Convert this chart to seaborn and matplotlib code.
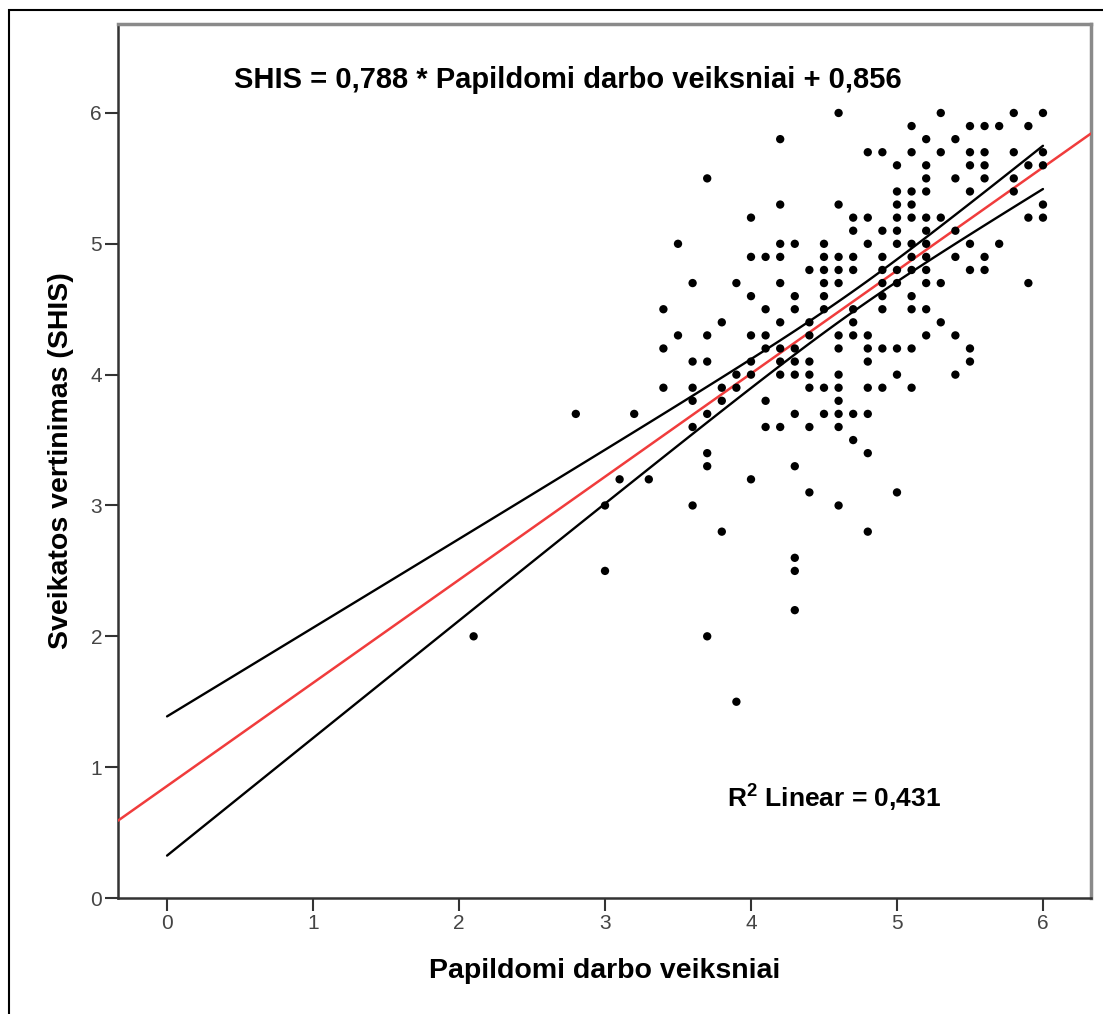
import numpy as np
import pandas as pd
import seaborn as sns
import matplotlib.pyplot as plt
from matplotlib.patches import Rectangle

# scatter points, one line per x column (overlapping cases drawn once)
work_factors = (
    [2.1] + [2.8] + [3.0] * 2 + [3.1] + [3.2] + [3.3] + [3.4] * 3 + [3.5] * 2
    + [3.6] * 6 + [3.7] * 7 + [3.8] * 4 + [3.9] * 4 + [4.0] * 7 + [4.1] * 6
    + [4.2] * 10 + [4.3] * 11 + [4.4] * 8 + [4.5] * 8 + [4.6] * 13 + [4.7] * 9
    + [4.8] * 10 + [4.9] * 9 + [5.0] * 11 + [5.1] * 12 + [5.2] * 12 + [5.3] * 5
    + [5.4] * 6 + [5.5] * 8 + [5.6] * 6 + [5.7] * 2 + [5.8] * 4 + [5.9] * 4 + [6.0] * 5
)
health_scores = [
    2.0,
    3.7,
    3.0, 2.5,
    3.2,
    3.7,
    3.2,
    4.5, 4.2, 3.9,
    5.0, 4.3,
    4.7, 4.1, 3.9, 3.8, 3.6, 3.0,
    5.5, 4.3, 4.1, 3.7, 3.4, 3.3, 2.0,
    4.4, 3.9, 3.8, 2.8,
    4.7, 4.0, 3.9, 1.5,
    5.2, 4.9, 4.6, 4.3, 4.1, 4.0, 3.2,
    4.9, 4.5, 4.3, 4.2, 3.8, 3.6,
    5.8, 5.3, 5.0, 4.9, 4.7, 4.4, 4.2, 4.1, 4.0, 3.6,
    5.0, 4.6, 4.5, 4.2, 4.1, 4.0, 3.7, 3.3, 2.6, 2.5, 2.2,
    4.8, 4.4, 4.3, 4.1, 4.0, 3.9, 3.6, 3.1,
    5.0, 4.9, 4.8, 4.7, 4.6, 4.5, 3.9, 3.7,
    6.0, 5.3, 4.9, 4.8, 4.7, 4.3, 4.2, 4.0, 3.9, 3.8, 3.7, 3.6, 3.0,
    5.2, 5.1, 4.9, 4.8, 4.5, 4.4, 4.3, 3.7, 3.5,
    5.7, 5.2, 5.0, 4.3, 4.2, 4.1, 3.9, 3.7, 3.4, 2.8,
    5.7, 5.1, 4.9, 4.8, 4.7, 4.6, 4.5, 4.2, 3.9,
    5.6, 5.4, 5.3, 5.2, 5.1, 5.0, 4.8, 4.7, 4.2, 4.0, 3.1,
    5.9, 5.7, 5.4, 5.3, 5.2, 5.0, 4.9, 4.8, 4.6, 4.5, 4.2, 3.9,
    5.8, 5.6, 5.5, 5.4, 5.2, 5.1, 5.0, 4.9, 4.8, 4.7, 4.5, 4.3,
    6.0, 5.7, 5.2, 4.7, 4.4,
    5.8, 5.5, 5.1, 4.9, 4.3, 4.0,
    5.9, 5.7, 5.6, 5.4, 5.0, 4.8, 4.2, 4.1,
    5.9, 5.7, 5.6, 5.5, 4.9, 4.8,
    5.9, 5.0,
    6.0, 5.7, 5.5, 5.4,
    5.9, 5.6, 5.2, 4.7,
    6.0, 5.7, 5.6, 5.3, 5.2,
]

# fit as printed on the chart
slope = 0.788
intercept = 0.856
r_squared = 0.431

# summary stats behind the 95% confidence band of the mean
n_obs = 255
x_mean = 4.7
x_sd = 0.7
resid_sd = 0.634
t_crit = 1.97

df = pd.DataFrame({'work': work_factors, 'shis': health_scores})

sns.set_theme(style='white')
plt.rcParams['font.family'] = ['Liberation Sans', 'DejaVu Sans']
plt.rcParams['text.color'] = 'black'
plt.rcParams['axes.labelcolor'] = 'black'
plt.rcParams['mathtext.fontset'] = 'custom'
plt.rcParams['mathtext.bf'] = 'Liberation Sans:bold'

fig = plt.figure(figsize=(11.03, 10.14), dpi=100)
ax = fig.add_axes([118 / 1103, 116 / 1014, 973 / 1103, 874 / 1014])

x_lim = (-0.336, 6.329)
y_lim = (0, 6.68)

# fit line across the whole axis
fit_x = np.linspace(x_lim[0], x_lim[1], 50)
ax.plot(fit_x, intercept + slope * fit_x, color='#f03c3c', lw=1.8, zorder=3)

# confidence band over the variable's range
band_x = np.linspace(0, 6, 120)
band_fit = intercept + slope * band_x
half = t_crit * resid_sd * np.sqrt(1 / n_obs + (band_x - x_mean) ** 2 / ((n_obs - 1) * x_sd ** 2))
ax.plot(band_x, band_fit + half, color='black', lw=1.7, zorder=3)
ax.plot(band_x, band_fit - half, color='black', lw=1.7, zorder=3)

sns.scatterplot(data=df, x='work', y='shis', color='black', s=36,
                edgecolor='none', linewidth=0, ax=ax, zorder=4)

ax.set_xlim(*x_lim)
ax.set_ylim(*y_lim)
ax.set_xticks(range(0, 7))
ax.set_yticks(range(0, 7))

ax.tick_params(bottom=True, left=True, direction='out', length=9.5, width=1.5,
               colors='#333333', labelsize=15, labelcolor='#444444', pad=2)

for side in ['left', 'bottom']:
    ax.spines[side].set_color('#333333')
    ax.spines[side].set_linewidth(1.8)
for side in ['top', 'right']:
    ax.spines[side].set_color('#8a8a8a')
    ax.spines[side].set_linewidth(2.5)

ax.set_xlabel('Papildomi darbo veiksniai', fontsize=20.5, fontweight='bold', labelpad=18)
ax.set_ylabel('Sveikatos vertinimas (SHIS)', fontsize=20.5, fontweight='bold', labelpad=12)

ax.text(0.462, 0.936, f'SHIS = {slope:.3f} * Papildomi darbo veiksniai + {intercept:.3f}'.replace('.', ','),
        transform=ax.transAxes, ha='center', va='center', fontsize=21, fontweight='bold')
ax.text(0.626, 0.1156, r'R$^{\mathbf{2}}$ Linear = ' + f'{r_squared:.3f}'.replace('.', ','),
        transform=ax.transAxes, ha='left', va='center', fontsize=19, fontweight='bold')

# outer frame of the exported chart
fig.patches.append(Rectangle((9 / 1103, -0.05), 1.2, 1.05 - 10 / 1014, transform=fig.transFigure,
                             fill=False, edgecolor='black', lw=1.5))

fig.savefig('out.png', dpi=100, facecolor='white')
